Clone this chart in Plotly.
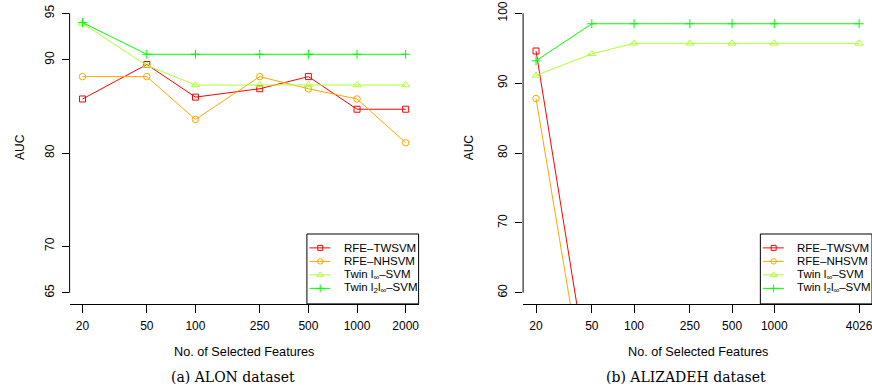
import math
import plotly.graph_objects as go

# ---------------- data ----------------
alon_features = [20, 50, 100, 250, 500, 1000, 2000]
alon_rfe_twsvm = [85.8, 89.5, 86.0, 86.9, 88.2, 84.7, 84.7]
alon_rfe_nhsvm = [88.2, 88.2, 83.6, 88.2, 86.9, 85.8, 81.1]
alon_twin_linf = [93.9, 89.4, 87.3, 87.3, 87.3, 87.3, 87.3]
alon_twin_l2linf = [94.0, 90.6, 90.6, 90.6, 90.6, 90.6, 90.6]
alon_yticks = [65, 70, 80, 90, 95]

aliz_features = [20, 50, 100, 250, 500, 1000, 4026]
# RFE curves drop far below the visible range after 20 features (off-scale, unreadable)
aliz_rfe_twsvm = [94.6, 45.0, None, None, None, None, None]
aliz_rfe_nhsvm = [87.8, 40.0, None, None, None, None, None]
aliz_twin_linf = [91.1, 94.2, 95.7, 95.7, 95.7, 95.7, 95.7]
aliz_twin_l2linf = [93.2, 98.5, 98.5, 98.5, 98.5, 98.5, 98.5]
aliz_yticks = [60, 70, 80, 90, 100]

series_names = ["RFE–TWSVM", "RFE–NHSVM", "Twin l<sub>∞</sub>–SVM",
                "Twin l<sub>2</sub>l<sub>∞</sub>–SVM"]
series_colors = ["#FF0000", "#FFA500", "#ADFF2F", "#00FF00"]
series_symbols = ["square-open", "circle-open", "triangle-up-open", "cross-thin-open"]
series_sizes = [6, 6.5, 7, 6.5]

panels = [
    dict(features=alon_features,
         values=[alon_rfe_twsvm, alon_rfe_nhsvm, alon_twin_linf, alon_twin_l2linf],
         yticks=alon_yticks, caption="(a) ALON dataset",
         xdom=[69.6 / 872, 418.6 / 872], cap_x=232.5 / 872, auc_x=20 / 872),
    dict(features=aliz_features,
         values=[aliz_rfe_twsvm, aliz_rfe_nhsvm, aliz_twin_linf, aliz_twin_l2linf],
         yticks=aliz_yticks, caption="(b) ALIZADEH dataset",
         xdom=[523.1 / 872, 1.0], cap_x=686 / 872, auc_x=469.3 / 872),
]

YDOM = [1 - 303.9 / 392, 1 - 2.1 / 392]
SANS = "Liberation Sans, Arial, Helvetica, sans-serif"
SERIF = "DejaVu Serif, serif"

fig = go.Figure()
layout = dict(width=872, height=392, margin=dict(l=0, r=0, t=0, b=0),
              paper_bgcolor="white", plot_bgcolor="white", showlegend=False,
              hovermode=False, font=dict(family=SANS, color="black"))
shapes = []
annotations = []

for p_i, p in enumerate(panels):
    n = p_i + 1
    xs = "" if n == 1 else str(n)
    xa, ya = "x" + xs, "y" + xs
    # overlay axes for the legend keys
    ln = p_i + 3
    lxa, lya = "x" + str(ln), "y" + str(ln)

    for vals, name, col, sym, sz in zip(p["values"], series_names, series_colors,
                                         series_symbols, series_sizes):
        fig.add_trace(go.Scatter(
            x=p["features"], y=vals, mode="lines+markers", name=name,
            xaxis=xa, yaxis=ya, connectgaps=False,
            line=dict(color=col, width=1),
            marker=dict(symbol=sym, size=sz, color=col, line=dict(color=col, width=1)),
        ))

    lx0, lx1 = math.log10(min(p["features"])), math.log10(max(p["features"]))
    xpad = 0.04 * (lx1 - lx0)
    y0, y1 = min(p["yticks"]), max(p["yticks"])
    ypad = 0.04 * (y1 - y0)

    layout["xaxis" + xs] = dict(
        domain=p["xdom"], anchor=ya, type="log", range=[lx0 - xpad, lx1 + xpad],
        tickvals=p["features"], ticktext=[str(v) for v in p["features"]],
        ticks="outside", ticklen=8, tickwidth=1, tickcolor="black",
        ticklabeloverflow="allow", ticklabelstandoff=3,
        showline=True, linecolor="black", linewidth=1, showgrid=False, zeroline=False,
        tickfont=dict(family=SANS, size=12, color="black"), tickangle=0)
    layout["yaxis" + xs] = dict(
        domain=YDOM, anchor=xa, range=[y0 - ypad, y1 + ypad],
        tickvals=p["yticks"], ticktext=[str(v) for v in p["yticks"]],
        ticks="outside", ticklen=7, tickwidth=1, tickcolor="black",
        ticklabelstandoff=3,
        showline=False, showgrid=False, zeroline=False, tickangle=-90,
        tickfont=dict(family=SANS, size=12, color="black"))
    layout["xaxis" + str(ln)] = dict(overlaying=xa, anchor=lya, range=[0, 1], visible=False,
                                     fixedrange=True)
    layout["yaxis" + str(ln)] = dict(overlaying=ya, anchor=lxa, range=[0, 1], visible=False,
                                     fixedrange=True)

    # y axis line spanning first to last tick (R style)
    shapes.append(dict(type="line", xref=xa + " domain", yref=ya, x0=0, x1=0,
                       y0=y0, y1=y1, line=dict(color="black", width=1)))

    # legend box
    box_l, box_top = 0.68, 0.2316
    shapes.append(dict(type="rect", xref=xa + " domain", yref=ya + " domain",
                       x0=box_l, x1=1.0, y0=0.0, y1=box_top, layer="below",
                       fillcolor="white", line=dict(color="black", width=1)))
    step, first = 0.0447, 0.1856
    for i, (name, col, sym, sz) in enumerate(zip(series_names, series_colors,
                                                 series_symbols, series_sizes)):
        yy = first - i * step
        fig.add_trace(go.Scatter(
            x=[box_l + 2.5 / 349, box_l + 23.5 / 349], y=[yy, yy], mode="lines",
            xaxis=lxa, yaxis=lya, line=dict(color=col, width=1), hoverinfo="skip"))
        fig.add_trace(go.Scatter(
            x=[box_l + 13.3 / 349], y=[yy], mode="markers", xaxis=lxa, yaxis=lya,
            marker=dict(symbol=sym, size=sz - 1, color=col, line=dict(color=col, width=1)),
            hoverinfo="skip"))
        annotations.append(dict(xref=xa + " domain", yref=ya + " domain",
                                x=box_l + 35 / 349, y=yy, xanchor="left", yanchor="middle",
                                text=name, showarrow=False,
                                font=dict(family=SANS, size=11.5, color="black")))

    xc = (p["xdom"][0] + p["xdom"][1]) / 2
    annotations.append(dict(xref="paper", yref="paper", x=xc, y=1 - 351.7 / 392,
                            text="No. of Selected Features", showarrow=False,
                            xanchor="center", yanchor="middle",
                            font=dict(family=SANS, size=12.7, color="black")))
    annotations.append(dict(xref="paper", yref="paper", x=p["cap_x"], y=1 - 376.7 / 392,
                            text=p["caption"], showarrow=False,
                            xanchor="center", yanchor="middle",
                            font=dict(family=SERIF, size=14, color="black")))
    annotations.append(dict(xref="paper", yref="paper", x=p["auc_x"], y=1 - 147 / 392,
                            text="AUC", showarrow=False, textangle=-90,
                            xanchor="center", yanchor="middle",
                            font=dict(family=SANS, size=12, color="black")))

layout["shapes"] = shapes
layout["annotations"] = annotations
fig.update_layout(**layout)
fig.write_html(
    "out.html",
    config={"displayModeBar": False, "staticPlot": True},
    post_script="document.body.style.margin='0';document.body.style.overflow='hidden';",
)
